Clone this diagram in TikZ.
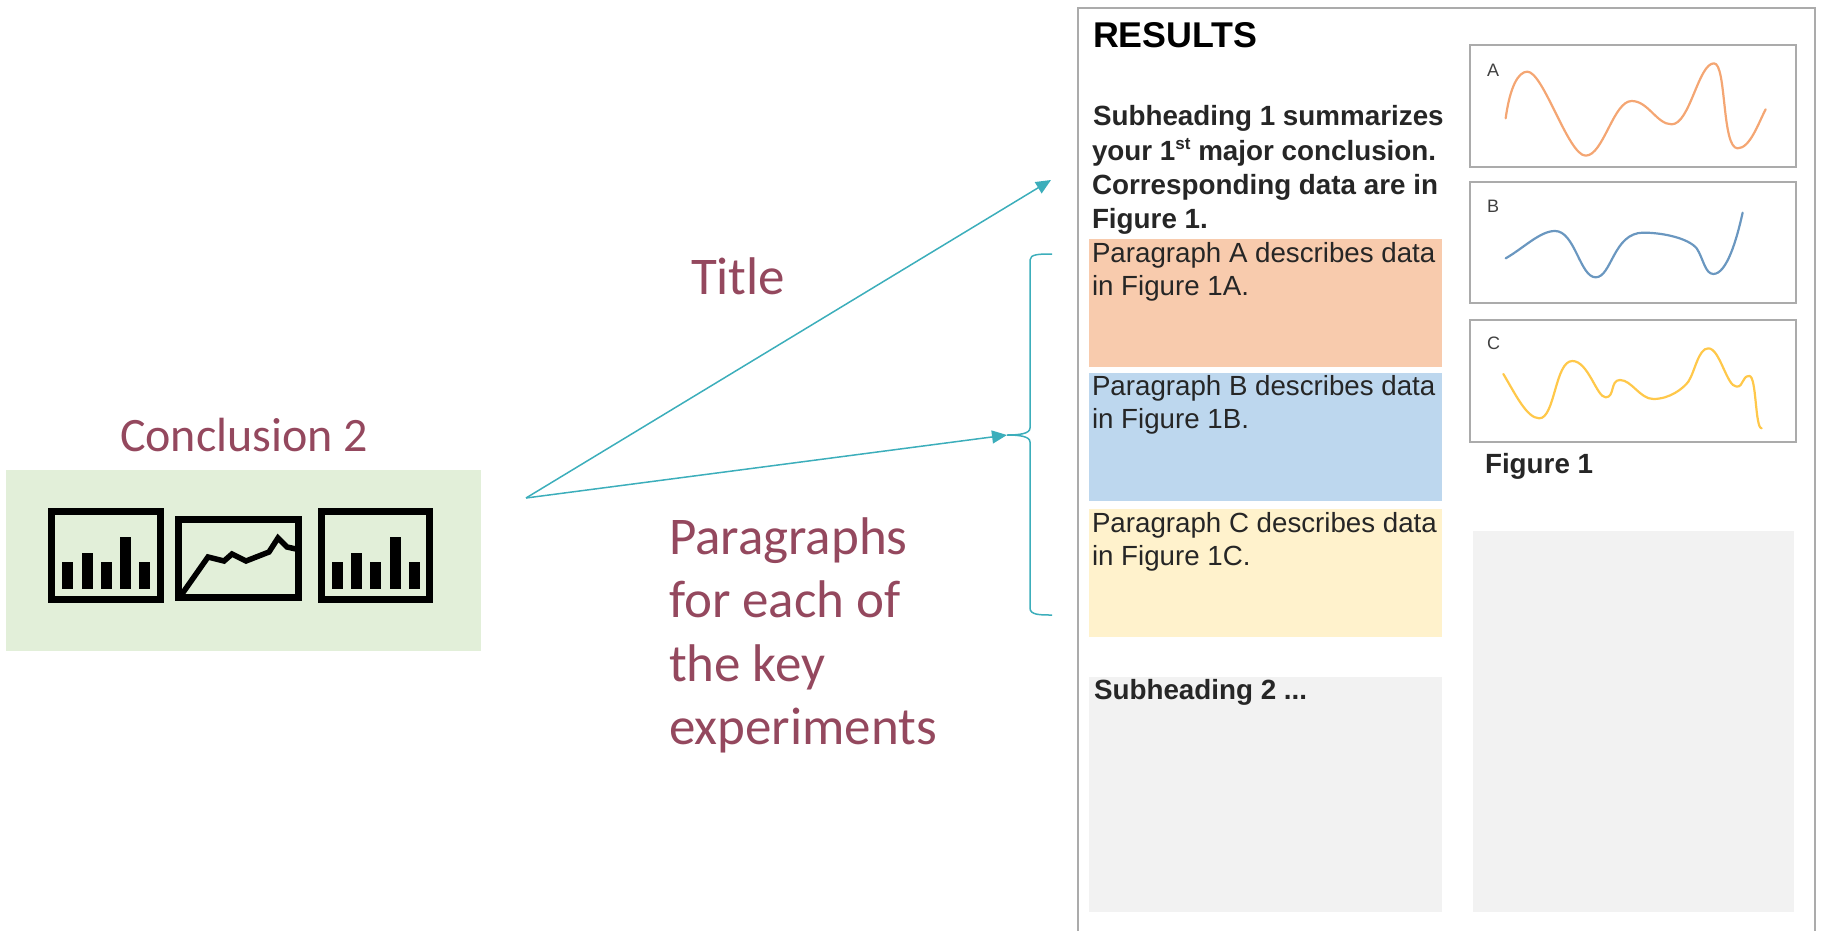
\documentclass[tikz,border=0pt]{standalone}
\usepackage{fontspec}
\setmainfont{Liberation Sans}
\newfontfamily\carlito{Carlito}
\usetikzlibrary{arrows.meta}
\definecolor{wine}{HTML}{94485E}
\definecolor{teal1}{HTML}{3CAEBB}
\definecolor{framegray}{HTML}{ABABAB}
\definecolor{greenbg}{HTML}{E2EFD9}
\definecolor{parA}{HTML}{F8CBAD}
\definecolor{parB}{HTML}{BDD7EE}
\definecolor{parC}{HTML}{FFF2CC}
\definecolor{lightgray1}{HTML}{F2F2F2}
\definecolor{curveA}{HTML}{F4A673}
\definecolor{curveB}{HTML}{6A97C0}
\definecolor{curveC}{HTML}{FFC84A}
\tikzset{
  txt/.style={anchor=base west,inner sep=0pt,outer sep=0pt,text=black!85},
  big/.style={anchor=base west,inner sep=0pt,outer sep=0pt,text=wine,font=\carlito\fontsize{53}{53}\selectfont},
  bigc/.style={big,font=\carlito\fontsize{48}{48}\selectfont},
  para/.style={txt,font=\fontsize{27.7}{27.7}\selectfont},
  sub/.style={txt,font=\bfseries\fontsize{27.8}{27.8}\selectfont},
  paneltag/.style={txt,text=black!75,font=\fontsize{18}{18}\selectfont},
  blockfill/.style={fill=#1,draw=none},
  figframe/.style={draw=framegray,line width=2pt},
  chartframe/.style={draw=black,line width=7pt,miter limit=10},
  bar/.style={fill=black,draw=none},
  conn/.style={draw=teal1,line width=1.5pt,-{Triangle[length=15pt,width=13pt]}},
  bracepath/.style={draw=teal1,line width=1.5pt},
  wave/.style={line width=2.2pt,line cap=round,line join=round},
}
\begin{document}
\begin{tikzpicture}[x=1pt,y=-1pt]
\useasboundingbox (0,0) rectangle (1821,930);
% left block
\fill[greenbg] (6,470) rectangle (481,651);
\node[bigc] (concl) at (120,451) {Conclusion 2};
% charts
\draw[chartframe] (51.5,511.5) rectangle (160.5,599.5);
\foreach \xa/\ty in {62/562,81.5/553,100.5/562,120/537,139/562}
  \fill[bar] (\xa,\ty) rectangle (\xa+11,589);
\draw[chartframe] (178,519) rectangle (298,597);
\draw[line width=5.5pt,line join=miter] (182,594) -- (208,557) -- (224,561) -- (232,554) -- (246,561) -- (269,552) -- (278,538) -- (287,547) -- (296,549);
\draw[chartframe] (321.5,511.5) rectangle (429.5,599.5);
\foreach \xa/\ty in {332/562,351/553,370/562,389.5/537,408.5/562}
  \fill[bar] (\xa,\ty) rectangle (\xa+11,589);
% labels
\node[big] (title) at (691,294) {Title};
\node[big] (l1) at (669,554) {Paragraphs};
\node[big] (l2) at (669,617) {for each of};
\node[big] (l3) at (669,681) {the key};
\node[big] (l4) at (669,744) {experiments};
% panel
\draw[figframe] (1078,940) -- (1078,7.5) -- (1815,7.5) -- (1815,940);
\node[txt,font=\bfseries\fontsize{35.8}{35.8}\selectfont,text=black] (results) at (1093,47) {RESULTS};
\node[sub] (s1) at (1093,125) {Subheading 1 summarizes};
\node[sub] (s2) at (1092,160) {your 1\raisebox{0.36em}{\fontsize{17}{17}\selectfont st} major conclusion.};
\node[sub] (s3) at (1092,194) {Corresponding data are in};
\node[sub] (s4) at (1092,228) {Figure 1.};
% coloured blocks
\fill[blockfill=parA] (1089,239) rectangle (1442,367);
\fill[blockfill=parB] (1089,373) rectangle (1442,501);
\fill[blockfill=parC] (1089,509) rectangle (1442,637);
\fill[blockfill=lightgray1] (1089,677) rectangle (1442,912);
\fill[blockfill=lightgray1] (1473,531) rectangle (1794,912);
\node[para] (pa1) at (1092,262) {Paragraph A describes data};
\node[para] (pa2) at (1092,295) {in Figure 1A.};
\node[para] (pb1) at (1092,395) {Paragraph B describes data};
\node[para] (pb2) at (1092,428) {in Figure 1B.};
\node[para] (pc1) at (1092,532) {Paragraph C describes data};
\node[para] (pc2) at (1092,565) {in Figure 1C.};
\node[sub] (s5) at (1094,699) {Subheading 2 ...};
% figure frames
\draw[figframe] (1469.5,44.5) rectangle (1795.5,166.5);
\draw[figframe] (1469.5,181.5) rectangle (1795.5,302.5);
\draw[figframe] (1469.5,319.5) rectangle (1795.5,441.5);
\node[paneltag] (ta) at (1487,76) {A};
\node[paneltag] (tb) at (1487,212) {B};
\node[paneltag] (tc) at (1487,349) {C};
\node[sub] (fig) at (1485,473) {Figure 1};
% curves
\begin{scope}[shift={(1440,20)},x=0.3333pt,y=-0.3333pt]
\draw[curveA,wave] (197,295) .. controls (210,200) and (235,155) .. (262,155)
  .. controls (310,155) and (385,407) .. (437,407)
  .. controls (490,407) and (520,243) .. (575,243)
  .. controls (625,243) and (650,313) .. (695,313)
  .. controls (750,313) and (775,130) .. (822,130)
  .. controls (860,130) and (845,385) .. (893,385)
  .. controls (930,385) and (955,310) .. (977,268);
\draw[curveB,wave] (197,715) .. controls (250,685) and (300,633) .. (345,633)
  .. controls (405,633) and (420,772) .. (467,772)
  .. controls (515,772) and (520,638) .. (610,638)
  .. controls (670,638) and (745,655) .. (770,685)
  .. controls (790,715) and (795,762) .. (820,762)
  .. controls (860,762) and (890,660) .. (908,578);
\end{scope}
\begin{scope}[shift={(1440,300)},x=0.3333pt,y=-0.3333pt]
\draw[curveC,wave] (190,222) .. controls (225,280) and (260,355) .. (298,355)
  .. controls (345,355) and (345,183) .. (397,183)
  .. controls (445,183) and (470,292) .. (497,292)
  .. controls (525,292) and (510,240) .. (540,240)
  .. controls (575,240) and (600,297) .. (640,297)
  .. controls (690,297) and (730,265) .. (745,245)
  .. controls (765,215) and (775,145) .. (805,145)
  .. controls (840,145) and (860,260) .. (890,260)
  .. controls (912,260) and (905,228) .. (928,228)
  .. controls (950,228) and (945,385) .. (965,385);
\end{scope}
% connectors
\coordinate (src) at (526,498);
\coordinate (titleend) at (1051,180);
\coordinate (bracetip) at (1007,435);
\draw[conn] (src) -- (titleend);
\draw[conn] (src) -- (bracetip);
\draw[bracepath] (1052,254) .. controls (1040,254) and (1030,254) .. (1030,260) -- (1030,428) .. controls (1030,434) and (1018,435) .. (bracetip) .. controls (1018,435) and (1030,436) .. (1030,442) -- (1030,608) .. controls (1030,615) and (1040,615) .. (1052,615);
\end{tikzpicture}
\end{document}
